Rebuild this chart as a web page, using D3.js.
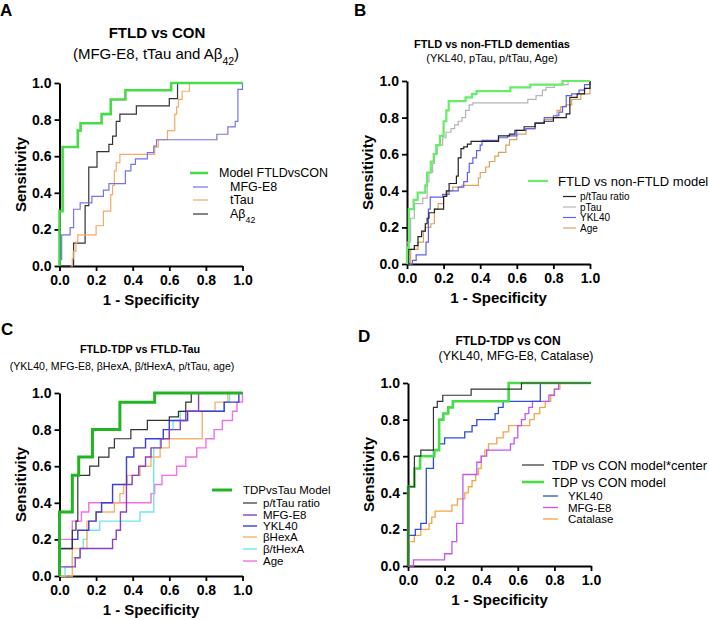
<!DOCTYPE html>
<html>
<head>
<meta charset="utf-8">
<script src="https://cdn.jsdelivr.net/npm/d3@7"></script>
<style>
  body { margin: 0; background: #fff; }
  svg { display: block; font-family: "Liberation Sans", Arial, Helvetica, sans-serif; }
</style>
</head>
<body>
<script>
//roc curves: each point is [1 - specificity, sensitivity] where the step lands

//panel A, FTLD vs CON
var ftldConModel = [[0,0],[0,0.30],[0.017,0.65],[0.10,0.74],[0.115,0.78],[0.23,0.83],[0.28,0.91],[0.36,0.96],[0.61,1.0],[1,1]];
var ftldConMfg = [[0,0],[0,0.035],[0.012,0.17],[0.058,0.21],[0.077,0.31],[0.113,0.345],[0.177,0.38],[0.24,0.415],[0.27,0.45],[0.36,0.52],[0.39,0.555],[0.415,0.585],[0.48,0.62],[0.515,0.655],[0.53,0.69],[0.86,0.72],[0.92,0.76],[0.96,0.79],[0.975,0.965],[1,1]];
var ftldConTtau = [[0.06,0],[0.07,0.04],[0.075,0.08],[0.09,0.13],[0.1,0.17],[0.2,0.22],[0.24,0.30],[0.28,0.39],[0.29,0.44],[0.30,0.52],[0.31,0.565],[0.33,0.61],[0.52,0.65],[0.54,0.69],[0.59,0.74],[0.63,0.83],[0.64,0.87],[0.65,0.91],[0.67,0.955],[0.71,1.0],[1,1]];
var ftldConAbeta = [[0,0],[0.077,0.125],[0.14,0.33],[0.16,0.54],[0.205,0.625],[0.27,0.665],[0.29,0.71],[0.31,0.79],[0.33,0.83],[0.42,0.875],[0.6,0.915],[0.645,1.0],[1,1]];

//panel B, FTLD vs non-FTLD dementias
var nonFtldModel = [[0,0],[0,0.09],[0.01,0.30],[0.036,0.35],[0.058,0.39],[0.1,0.43],[0.11,0.5],[0.13,0.56],[0.146,0.6],[0.16,0.65],[0.18,0.7],[0.2,0.78],[0.215,0.84],[0.228,0.89],[0.32,0.91],[0.355,0.93],[0.38,0.945],[0.565,0.965],[0.674,0.98],[0.85,1.0],[1,1]];
var nonFtldRatio = [[0,0],[0.01,0.08],[0.04,0.1],[0.06,0.15],[0.08,0.18],[0.1,0.22],[0.11,0.25],[0.12,0.28],[0.15,0.3],[0.2,0.37],[0.215,0.4],[0.23,0.44],[0.27,0.48],[0.28,0.58],[0.295,0.63],[0.31,0.64],[0.33,0.655],[0.35,0.67],[0.5,0.7],[0.56,0.71],[0.59,0.73],[0.64,0.75],[0.7,0.77],[0.75,0.78],[0.8,0.8],[0.87,0.82],[0.89,0.91],[0.93,0.93],[0.97,0.96],[1,1]];
var nonFtldPtau = [[0,0],[0,0.12],[0.02,0.25],[0.04,0.33],[0.086,0.36],[0.11,0.45],[0.12,0.5],[0.14,0.55],[0.15,0.6],[0.165,0.65],[0.195,0.69],[0.213,0.72],[0.24,0.74],[0.26,0.76],[0.28,0.78],[0.30,0.8],[0.32,0.84],[0.34,0.87],[0.36,0.88],[0.66,0.9],[0.705,0.92],[0.74,0.95],[0.76,0.965],[0.805,0.98],[0.88,1.0],[1,1]];
var nonFtldYkl = [[0,0],[0.03,0.02],[0.05,0.05],[0.104,0.12],[0.117,0.3],[0.127,0.365],[0.195,0.38],[0.23,0.4],[0.28,0.42],[0.31,0.45],[0.33,0.5],[0.34,0.55],[0.36,0.58],[0.38,0.62],[0.4,0.65],[0.41,0.676],[0.5,0.69],[0.55,0.7],[0.6,0.73],[0.65,0.74],[0.7,0.77],[0.75,0.8],[0.8,0.81],[0.83,0.83],[0.85,0.86],[0.87,0.92],[0.9,0.93],[0.94,0.95],[0.97,0.98],[1,1]];
var nonFtldAge = [[0,0],[0.02,0.08],[0.06,0.12],[0.09,0.18],[0.1,0.2],[0.13,0.22],[0.15,0.3],[0.17,0.33],[0.2,0.37],[0.22,0.4],[0.25,0.42],[0.3,0.43],[0.39,0.47],[0.4,0.5],[0.43,0.53],[0.45,0.56],[0.48,0.59],[0.5,0.61],[0.54,0.65],[0.56,0.68],[0.6,0.71],[0.65,0.74],[0.7,0.77],[0.75,0.79],[0.8,0.8],[0.82,0.84],[0.84,0.86],[0.87,0.87],[0.9,0.9],[0.95,0.93],[1,0.95],[1,1]];

//panel C, FTLD-TDP vs FTLD-Tau
var tdpTauModel = [[0,0],[0,0.35],[0.07,0.55],[0.105,0.65],[0.18,0.8],[0.33,0.95],[0.52,1.0],[1,1]];
var tdpTauRatio = [[0,0],[0,0.15],[0.07,0.25],[0.09,0.3],[0.1,0.55],[0.165,0.6],[0.214,0.65],[0.27,0.7],[0.3,0.75],[0.39,0.8],[0.48,0.85],[0.6,0.87],[0.65,0.9],[0.69,0.95],[0.72,1],[1,1]];
var tdpTauMfg = [[0,0],[0,0.05],[0.086,0.1],[0.113,0.15],[0.29,0.2],[0.31,0.25],[0.333,0.35],[0.366,0.5],[0.397,0.55],[0.433,0.6],[0.47,0.65],[0.5,0.7],[0.555,0.75],[0.6,0.8],[0.66,0.85],[0.69,0.9],[0.76,1.0],[1,1]];
var tdpTauYkl = [[0,0],[0,0.15],[0.07,0.2],[0.1,0.25],[0.16,0.3],[0.2,0.35],[0.23,0.4],[0.29,0.5],[0.366,0.65],[0.406,0.7],[0.47,0.75],[0.567,0.8],[0.6,0.85],[0.7,0.9],[0.9,0.95],[0.98,1],[1,1]];
var tdpTauHex = [[0,0],[0.07,0.15],[0.15,0.3],[0.2,0.35],[0.3,0.4],[0.33,0.45],[0.35,0.5],[0.37,0.55],[0.44,0.6],[0.5,0.65],[0.55,0.7],[0.6,0.75],[0.78,0.9],[0.85,0.95],[0.92,1],[1,1]];
var tdpTauHexRatio = [[0,0],[0.03,0.05],[0.07,0.1],[0.11,0.15],[0.13,0.2],[0.15,0.25],[0.22,0.3],[0.44,0.35],[0.515,0.7],[0.55,0.75],[0.6,0.8],[0.62,0.85],[0.66,0.9],[0.9,0.95],[0.93,1],[1,1]];
var tdpTauAge = [[0,0],[0,0.2],[0.07,0.3],[0.12,0.35],[0.16,0.4],[0.5,0.45],[0.52,0.5],[0.56,0.55],[0.64,0.6],[0.69,0.65],[0.75,0.7],[0.8,0.75],[0.845,0.8],[0.89,0.85],[0.945,0.9],[0.97,0.95],[1,1]];

//panel D, FTLD-TDP vs CON
var tdpConCenter = [[0,0],[0,0.433],[0.035,0.6],[0.07,0.633],[0.139,0.867],[0.16,0.9],[0.19,0.933],[0.345,0.967],[0.62,1],[1,1]];
var tdpConModel = [[0,0],[0,0.433],[0.035,0.533],[0.066,0.6],[0.144,0.633],[0.17,0.8],[0.193,0.833],[0.22,0.867],[0.245,0.9],[0.55,1],[1,1]];
var tdpConYkl = [[0,0],[0,0.167],[0.04,0.2],[0.07,0.233],[0.1,0.533],[0.139,0.633],[0.17,0.667],[0.2,0.7],[0.31,0.733],[0.35,0.767],[0.376,0.8],[0.476,0.833],[0.494,0.867],[0.52,0.9],[0.723,1],[1,1]];
var tdpConMfg = [[0,0],[0.03,0.033],[0.2,0.067],[0.24,0.133],[0.266,0.233],[0.3,0.5],[0.376,0.567],[0.4,0.6],[0.43,0.633],[0.56,0.667],[0.58,0.7],[0.6,0.767],[0.62,0.8],[0.64,0.833],[0.66,0.867],[0.68,0.9],[0.77,0.933],[0.8,0.967],[0.823,1],[1,1]];
var tdpConCat = [[0,0],[0,0.133],[0.035,0.167],[0.07,0.2],[0.115,0.233],[0.13,0.267],[0.148,0.3],[0.24,0.333],[0.27,0.367],[0.31,0.4],[0.33,0.433],[0.35,0.467],[0.37,0.5],[0.385,0.533],[0.4,0.6],[0.42,0.633],[0.44,0.667],[0.485,0.7],[0.52,0.733],[0.55,0.767],[0.665,0.8],[0.69,0.833],[0.72,0.867],[0.75,0.9],[0.78,0.933],[0.8,0.967],[0.83,1],[1,1]];

//axis ticks and labels
var tickValues = [0, 0.2, 0.4, 0.6, 0.8, 1.0];
var xTitle = "1 - Specificity";
var yTitle = "Sensitivity";

//panel letters, titles and legend names ( _{..} marks a subscript )
var panelLetters = ["A", "B", "C", "D"];
var panelTitles = ["FTLD vs CON", "FTLD vs non-FTLD dementias", "FTLD-TDP vs FTLD-Tau", "FTLD-TDP vs CON"];
var panelSubtitles = ["(MFG-E8, tTau and A\u03b2_{42})", "(YKL40, pTau, p/tTau, Age)", "(YKL40, MFG-E8, \u03b2HexA, \u03b2/tHexA, p/tTau, age)", "(YKL40, MFG-E8, Catalase)"];
var namesA = ["Model FTLDvsCON", "MFG-E8", "tTau", "A\u03b2_{42}"];
var namesB = ["FTLD vs non-FTLD model", "p/tTau ratio", "pTau", "YKL40", "Age"];
var namesC = ["TDPvsTau Model", "p/tTau ratio", "MFG-E8", "YKL40", "\u03b2HexA", "\u03b2/tHexA", "Age"];
var namesD = ["TDP vs CON model*center", "TDP vs CON model", "YKL40", "MFG-E8", "Catalase"];

//layout and styling of each panel
var panels = [
  {
    curves: [ftldConModel, ftldConMfg, ftldConTtau, ftldConAbeta], names: namesA,
    colors: ["#45dc45", "#7474e6", "#f5aa66", "#333333"], widths: [2.6, 1.2, 1.2, 1.2],
    left: 59.5, top: 83, letterX: 0, letterY: 16,
    titleX: 157, titleY: 38, titleSize: 15, subX: 156, subY: 59, subSize: 15,
    legMain: 1, legRows: [173, 187, 200, 214], legMainLine: [190, 208], legMainText: 219,
    legLine: [193, 208], legText: 230, legMainSize: 12.5, legSize: 12.5
  },
  {
    curves: [nonFtldModel, nonFtldRatio, nonFtldPtau, nonFtldYkl, nonFtldAge], names: namesB,
    colors: ["#66ec66", "#222222", "#b4b4b4", "#6060f0", "#d9a45a"], widths: [2.2, 1.2, 1.2, 1.2, 1.2],
    left: 407, top: 81, letterX: 354, letterY: 16,
    titleX: 492, titleY: 48, titleSize: 11, subX: 492, subY: 62, subSize: 11,
    legMain: 1, legRows: [181, 196.5, 207, 217.5, 228], legMainLine: [528, 548], legMainText: 558,
    legLine: [563, 576], legText: 580, legMainSize: 13, legSize: 10
  },
  {
    curves: [tdpTauModel, tdpTauRatio, tdpTauMfg, tdpTauYkl, tdpTauHex, tdpTauHexRatio, tdpTauAge], names: namesC,
    colors: ["#22b522", "#333333", "#8e3fbd", "#3c3cd8", "#f7b270", "#70e6f2", "#f070e6"], widths: [3, 1.2, 1.4, 1.4, 1.4, 1.4, 1.4],
    left: 59.5, top: 393, letterX: 1, letterY: 335,
    titleX: 140, titleY: 353, titleSize: 10.8, subX: 122, subY: 370, subSize: 10.6,
    legMain: 1, legRows: [490, 503, 515, 526, 537, 549, 561], legMainLine: [212, 232], legMainText: 243,
    legLine: [243, 257], legText: 263, legMainSize: 11.5, legSize: 11.5
  },
  {
    curves: [tdpConCenter, tdpConModel, tdpConYkl, tdpConMfg, tdpConCat], names: namesD,
    colors: ["#333333", "#44dd44", "#2a4ee0", "#c455ee", "#f5a545"], widths: [1.2, 2.6, 1.3, 1.3, 1.3],
    left: 408, top: 383, letterX: 358, letterY: 342,
    titleX: 508, titleY: 345, titleSize: 12, subX: 516, subY: 360, subSize: 12.4,
    legMain: 2, legRows: [465, 482, 496, 507.5, 519], legMainLine: [522, 544], legMainText: 552,
    legLine: [543, 558], legText: 568, legMainSize: 13, legSize: 11.5
  }
];
var plotSize = 183;

//create svg container
var svg = d3.select("body")
    .append("svg")
    .attr("width", 709)
    .attr("height", 620);

panels.forEach(function(p, i){
    drawPanel(p, i);
});

//write a string into a text element, turning _{..} into a subscript
function richText(textSel, str){
    var parts = str.split(/(_\{[^}]*\})/);
    parts.forEach(function(part){
        if (part === "") return;
        if (part.charAt(0) === "_"){
            textSel.append("tspan")
                .attr("baseline-shift", "sub")
                .attr("font-size", "70%")
                .text(part.slice(2, -1));
        } else {
            textSel.append("tspan").text(part);
        };
    });
};

function drawPanel(p, i){
    var g = svg.append("g").attr("class", "panel");

    var x = d3.scaleLinear()
        .domain([0, 1])
        .range([p.left, p.left + plotSize]);
    var y = d3.scaleLinear()
        .domain([0, 1])
        .range([p.top + plotSize, p.top]);

    //axes
    var xAxis = d3.axisBottom(x)
        .tickValues(tickValues)
        .tickFormat(d3.format(".1f"))
        .tickSize(5)
        .tickSizeOuter(0)
        .tickPadding(4);
    var yAxis = d3.axisLeft(y)
        .tickValues(tickValues)
        .tickFormat(d3.format(".1f"))
        .tickSize(5)
        .tickSizeOuter(0)
        .tickPadding(3);

    var gx = g.append("g")
        .attr("transform", "translate(0," + y(0) + ")")
        .call(xAxis);
    var gy = g.append("g")
        .attr("transform", "translate(" + x(0) + ",0)")
        .call(yAxis);

    [gx, gy].forEach(function(ax){
        ax.attr("font-family", null).attr("font-size", null);
        ax.select(".domain").attr("stroke", "#000").attr("stroke-width", 2);
        ax.selectAll(".tick line").attr("stroke", "#000").attr("stroke-width", 1.8);
        ax.selectAll(".tick text")
            .attr("fill", "#000")
            .style("font-size", "14px")
            .style("font-weight", "bold");
    });

    //roc curves, first legend entry drawn last so it sits on top
    var line = d3.line()
        .x(function(d){ return x(d[0]); })
        .y(function(d){ return y(d[1]); })
        .curve(d3.curveStepAfter);

    for (var k = p.curves.length - 1; k >= 0; k--){
        g.append("path")
            .datum(p.curves[k])
            .attr("fill", "none")
            .attr("stroke", p.colors[k])
            .attr("stroke-width", p.widths[k])
            .attr("d", line);
    };

    //axis titles
    g.append("text")
        .attr("transform", "translate(" + (p.left - 34) + "," + (p.top + plotSize / 2) + ") rotate(-90)")
        .attr("text-anchor", "middle")
        .style("font-size", "15px")
        .style("font-weight", "bold")
        .text(yTitle);
    g.append("text")
        .attr("x", p.left + plotSize / 2)
        .attr("y", p.top + plotSize + 39)
        .attr("text-anchor", "middle")
        .style("font-size", "15px")
        .style("font-weight", "bold")
        .text(xTitle);

    //panel letter, title and subtitle
    g.append("text")
        .attr("x", p.letterX)
        .attr("y", p.letterY)
        .style("font-size", "17px")
        .style("font-weight", "bold")
        .text(panelLetters[i]);
    g.append("text")
        .attr("x", p.titleX)
        .attr("y", p.titleY)
        .attr("text-anchor", "middle")
        .style("font-size", p.titleSize + "px")
        .style("font-weight", "bold")
        .text(panelTitles[i]);
    var sub = g.append("text")
        .attr("x", p.subX)
        .attr("y", p.subY)
        .attr("text-anchor", "middle")
        .style("font-size", p.subSize + "px");
    richText(sub, panelSubtitles[i]);

    //legend
    p.names.forEach(function(name, k){
        var isMain = k < p.legMain;
        var ly = p.legRows[k];
        var seg = isMain ? p.legMainLine : p.legLine;
        g.append("line")
            .attr("x1", seg[0])
            .attr("x2", seg[1])
            .attr("y1", ly)
            .attr("y2", ly)
            .attr("stroke", p.colors[k])
            .attr("stroke-width", p.widths[k]);
        var t = g.append("text")
            .attr("x", isMain ? p.legMainText : p.legText)
            .attr("y", ly)
            .attr("dy", "0.35em")
            .style("font-size", (isMain ? p.legMainSize : p.legSize) + "px");
        richText(t, name);
    });
};
</script>
</body>
</html>
